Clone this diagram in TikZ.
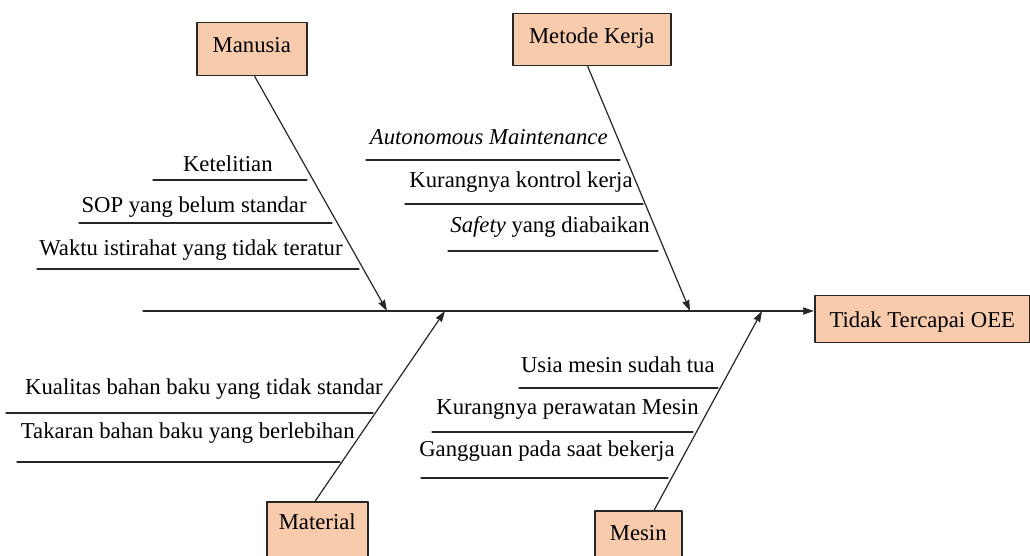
\documentclass[tikz,border=0pt]{standalone}
\usepackage{fontspec}
\setmainfont{Liberation Serif}
\usetikzlibrary{arrows.meta}
\definecolor{kotak}{RGB}{248,203,173}
\begin{document}
\begin{tikzpicture}[x=0.5pt, y=-0.5pt, >={Stealth[length=5.5pt, width=3.6pt, inset=0.4pt]}, line join=round, line cap=round, every node/.style={font=\fontsize{11.35}{13.6}\selectfont, inner sep=0pt}, kategori/.style={draw=black!85, line width=0.75pt, fill=kotak, anchor=north west}, garis/.style={line width=0.6pt, black!85}, declare function={sy=311;}]
			
			\useasboundingbox (0,0) rectangle (1030,556);
			
			\node[kategori, minimum width=55pt, text height=15pt, text depth=11.5pt] (manusia) at (196,22) {Manusia};
			
			\node[kategori, minimum width=79pt, text height=15pt, text depth=11pt] (metode) at (512,13) {Metode Kerja};
			
			\node[kategori, minimum width=50.5pt, text height=14pt, text depth=13.5pt] (material) at (266,501) {Material};
			
			\node[kategori, minimum width=43.5pt, text height=15pt, text depth=8pt] (mesin) at (594,510) {Mesin};
			
			\node[kategori, minimum width=107.5pt, text height=16pt, text depth=7.5pt] (oee) at (814,295) {Tidak Tercapai OEE};
			
			\coordinate (ekor) at (143, sy);
			\coordinate (jmanusia) at (387, sy);
			\coordinate (jmetode) at (690, sy);
			\coordinate (jmaterial) at (445, sy);
			\coordinate (jmesin) at (762, sy);
			
			\draw[->, garis] (ekor) -- (ekor -| oee.west);
			
			\draw[->, garis] ([xshift=1.5pt]manusia.south) -- (jmanusia);
			\draw[->, garis] ([xshift=-2pt]metode.south) -- (jmetode);
			\draw[->, garis] ([xshift=-1pt]material.north) -- (jmaterial);
			\draw[->, garis] ([xshift=8pt]mesin.north) -- (jmesin);
			
			\node[anchor=base east] (m1) at (273,172) {Ketelitian};
			\draw[garis] (153,180) -- (307,180);
			\node[anchor=base east] (m2) at (307,213) {SOP yang belum standar};
			\draw[garis] (79,223) -- (332,223);
			\node[anchor=base east] (m3) at (343,256) {Waktu istirahat yang tidak teratur};
			\draw[garis] (37,269) -- (359,269);
			
			\node[anchor=base east] (k1) at (608,145) {\itshape Autonomous Maintenance};
			\draw[garis] (366,160) -- (620,160);
			\node[anchor=base east] (k2) at (633,188) {Kurangnya kontrol kerja};
			\draw[garis] (405,204) -- (643,204);
			\node[anchor=base east] (k3) at (650,233) {\textit{Safety} yang diabaikan};
			\draw[garis] (448,251) -- (658,251);
			
			\node[anchor=base east] (b1) at (383,394) {Kualitas bahan baku yang tidak standar};
			\draw[garis] (6,413) -- (373,413);
			\node[anchor=base east] (b2) at (355,438) {Takaran bahan baku yang berlebihan};
			\draw[garis] (17,462) -- (340,462);
			
			\node[anchor=base east] (s1) at (715,372) {Usia mesin sudah tua};
			\draw[garis] (519,388) -- (718,388);
			\node[anchor=base east] (s2) at (699,415) {Kurangnya perawatan Mesin};
			\draw[garis] (432,432) -- (693,432);
			\node[anchor=base east] (s3) at (675,457) {Gangguan pada saat bekerja};
			\draw[garis] (421,478) -- (668,478);
			
		\end{tikzpicture}
\end{document}
